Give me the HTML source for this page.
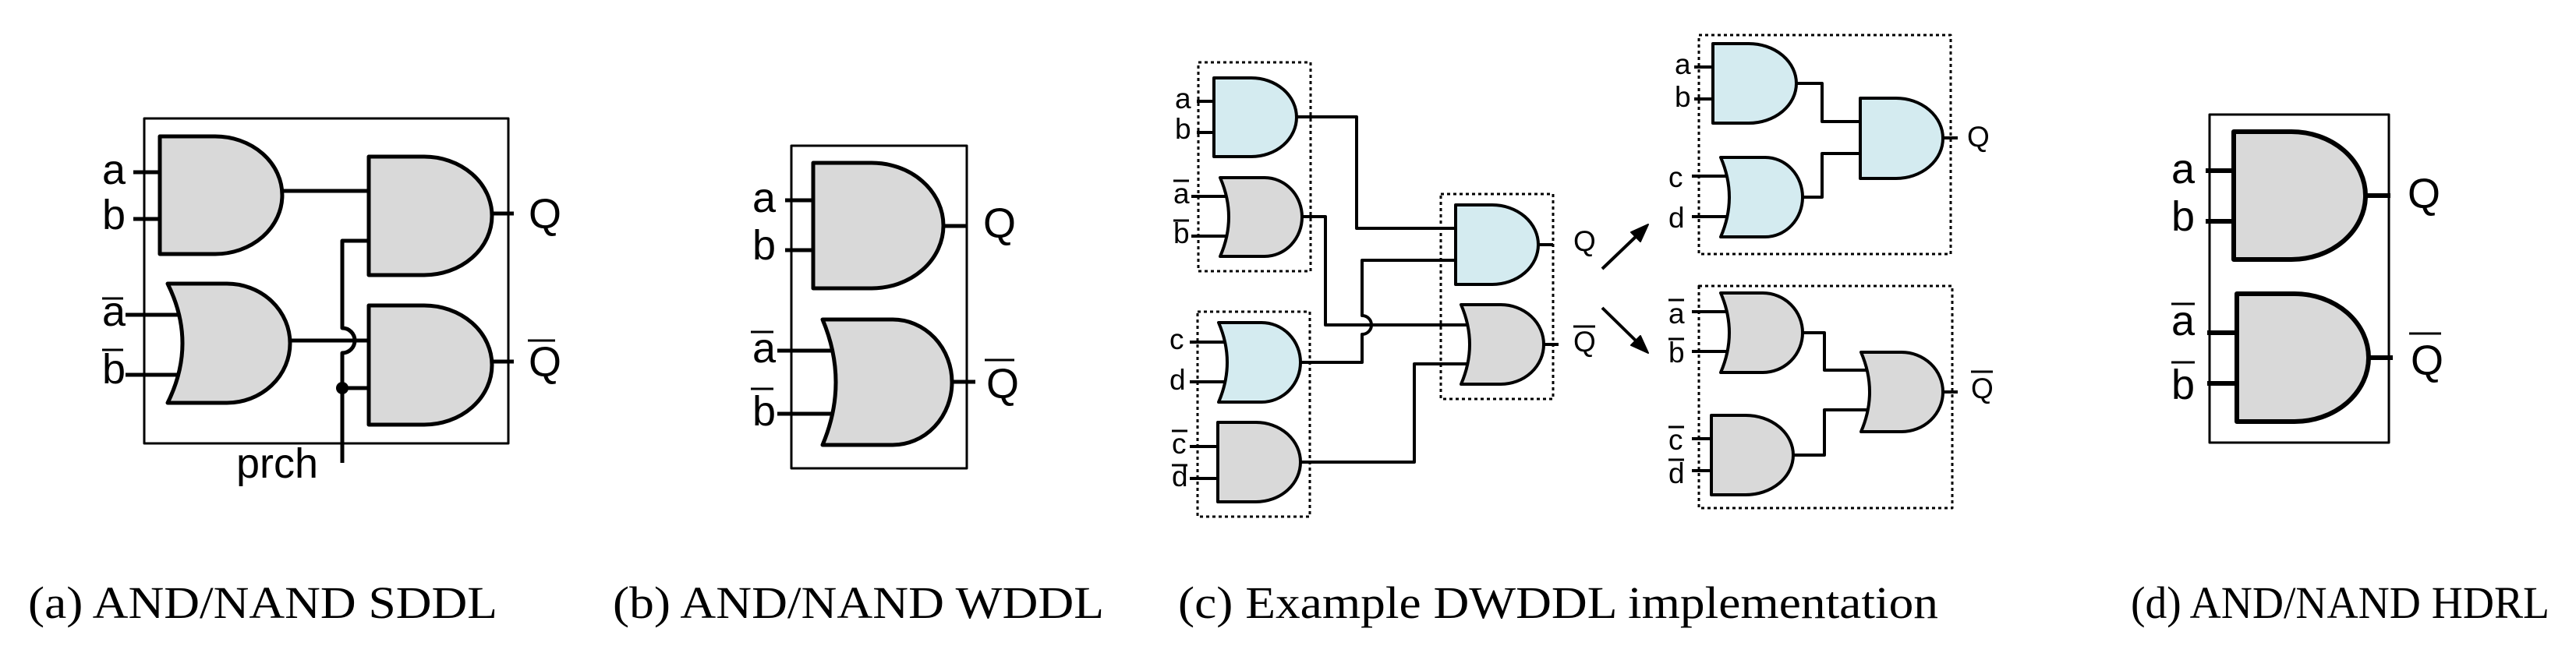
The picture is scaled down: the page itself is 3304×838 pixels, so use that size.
<!DOCTYPE html>
<html><head><meta charset="utf-8"><style>
html,body{margin:0;padding:0;background:#fff;}
svg{display:block;}
.l{font-family:"Liberation Sans",Arial,sans-serif;font-size:54px;fill:#000;}
.s{font-family:"Liberation Sans",Arial,sans-serif;font-size:37px;fill:#000;}
.cap{font-family:"Liberation Serif","Times New Roman",serif;font-size:58px;fill:#000;}
</style></head><body>
<svg width="3304" height="838" viewBox="0 0 3304 838" xmlns="http://www.w3.org/2000/svg">
<g fill="none" stroke="#000" stroke-linejoin="round">
<!-- Panel a -->
<rect x="185" y="152" width="467" height="417" stroke-width="3"/>
<g stroke-width="5">
<path d="M171,221H205M171,281H205M161,404H234M161,481H234"/>
<path d="M362,245H473M631,274H659M631,464H659M372,437H473"/>
<path d="M473,309H439V421A16,16 0 0 1 439,453V594M439,498H473"/>
<path d="M205,175H276A86,75.5 0 0 1 276,326H205Z" fill="#d9d9d9"/>
<path d="M473,201H544A87,76 0 0 1 544,353H473Z" fill="#d9d9d9"/>
<path d="M473,392H544A87,76.5 0 0 1 544,545H473Z" fill="#d9d9d9"/>
<path d="M215,364H291A81,76.5 0 0 1 291,517H215Q253,440.5 215,364Z" fill="#d9d9d9"/>
</g>
<circle cx="439" cy="498" r="8" fill="#000" stroke="none"/>
<!-- Panel b -->
<rect x="1015" y="187" width="225" height="414" stroke-width="3"/>
<g stroke-width="5">
<path d="M1007,257H1043M1007,321H1043M997,450H1075M997,531H1075M1210,290H1240M1221,490H1251"/>
<path d="M1043,209H1118A92,80.5 0 0 1 1118,370H1043Z" fill="#d9d9d9"/>
<path d="M1055,410H1145A76,80.5 0 0 1 1145,571H1055Q1089,490.5 1055,410Z" fill="#d9d9d9"/>
</g>
<!-- Panel c -->
<g stroke-width="3" stroke-dasharray="4 4">
<rect x="1537" y="80" width="144" height="268"/>
<rect x="1536" y="400" width="144" height="263"/>
<rect x="1848" y="249" width="144" height="263"/>
<rect x="2179" y="45" width="323" height="281"/>
<rect x="2179" y="367" width="325" height="285"/>
</g>
<g stroke-width="4">
<path d="M1535,130H1557M1535,170H1557M1528,252H1576M1528,303H1576M1526,439H1574M1526,490H1574M1526,573H1562M1526,614H1562"/>
<path d="M1663,150H1740V293H1867"/>
<path d="M1670,278H1700V417H1885"/>
<path d="M1668,465H1747V429A12,12 0 0 0 1747,405V334H1867"/>
<path d="M1668,593H1814V467H1883"/>
<path d="M1973,314H1992M1980,442H1999"/>
<path d="M1557,100H1605A58,50.5 0 0 1 1605,201H1557Z" fill="#d4ebf0"/>
<path d="M1565,228H1622A48,50.5 0 0 1 1622,329H1565Q1587,278.5 1565,228Z" fill="#d9d9d9"/>
<path d="M1563,414H1618A50,51 0 0 1 1618,516H1563Q1585,465 1563,414Z" fill="#d4ebf0"/>
<path d="M1562,542H1611A57,51 0 0 1 1611,644H1562Z" fill="#d9d9d9"/>
<path d="M1867,263H1914A59,51 0 0 1 1914,365H1867Z" fill="#d4ebf0"/>
<path d="M1874,391H1925A55,51 0 0 1 1925,493H1874Q1896,442 1874,391Z" fill="#d9d9d9"/>
<path d="M2055,345L2102,300M2055,395L2102,441"/>
<path d="M2173,86H2197M2173,127H2197M2170,226H2218M2170,278H2218"/>
<path d="M2304,107H2337V156H2386M2312,253H2337V197H2386M2492,177H2511"/>
<path d="M2197,56H2243A61,51 0 0 1 2243,158H2197Z" fill="#d4ebf0"/>
<path d="M2207,202H2264A48,51 0 0 1 2264,304H2207Q2229,253 2207,202Z" fill="#d4ebf0"/>
<path d="M2386,126H2432A60,51.5 0 0 1 2432,229H2386Z" fill="#d4ebf0"/>
<path d="M2170,400H2218M2170,451H2218M2170,563H2195M2170,604H2195"/>
<path d="M2312,427H2340V475H2398M2300,584H2340V526H2398M2492,503H2511"/>
<path d="M2207,376H2261A51,51 0 0 1 2261,478H2207Q2229,427 2207,376Z" fill="#d9d9d9"/>
<path d="M2195,533H2239A61,51 0 0 1 2239,635H2195Z" fill="#d9d9d9"/>
<path d="M2387,452H2439A53,51 0 0 1 2439,554H2387Q2409,503 2387,452Z" fill="#d9d9d9"/>
</g>
<path d="M2114,288L2092,298L2104,310Z M2114,453L2092,443L2104,431Z" fill="#000" stroke="#000" stroke-width="2"/>
<!-- Panel d -->
<rect x="2834" y="147" width="230" height="421" stroke-width="3"/>
<g stroke-width="6">
<path d="M2829,219H2865M2829,284H2865M2831,427H2869M2831,492H2869M3034,251H3066M3038,459H3069"/>
<path d="M2865,169H2939A95,82 0 0 1 2939,333H2865Z" fill="#d9d9d9"/>
<path d="M2869,377H2943A95,82 0 0 1 2943,541H2869Z" fill="#d9d9d9"/>
</g>
<!-- overbars -->
<g stroke-width="3">
<path d="M131,383H158M131,449H158M963,426H992M963,499H992M1263,462H1301"/>
<path d="M1505,232H1525M1505,283H1525M1503,553H1523M1503,597H1523M2018,419H2046"/>
<path d="M2140,385H2160M2140,435H2160M2140,548H2160M2140,590H2160M2528,477H2556"/>
<path d="M2785,390H2815M2785,465H2815M3090,428H3131M677,437H712"/>
</g>
</g>
<!-- labels a -->
<text class="l" x="131" y="236">a</text>
<text class="l" x="131" y="294">b</text>
<text class="l" x="131" y="418">a</text>
<text class="l" x="131" y="492">b</text>
<text class="l" x="678" y="293">Q</text>
<text class="l" x="678" y="483">Q</text>
<text class="l" x="303" y="613">prch</text>
<!-- labels b -->
<text class="l" x="965" y="272">a</text>
<text class="l" x="965" y="333">b</text>
<text class="l" x="965" y="465">a</text>
<text class="l" x="965" y="546">b</text>
<text class="l" x="1261" y="305">Q</text>
<text class="l" x="1265" y="511">Q</text>
<!-- labels c -->
<text class="s" x="1507" y="139">a</text>
<text class="s" x="1507" y="178">b</text>
<text class="s" x="1505" y="261">a</text>
<text class="s" x="1505" y="312">b</text>
<text class="s" x="1500" y="448">c</text>
<text class="s" x="1500" y="500">d</text>
<text class="s" x="1503" y="582">c</text>
<text class="s" x="1503" y="624">d</text>
<text class="s" x="2018" y="322">Q</text>
<text class="s" x="2018" y="451">Q</text>
<text class="s" x="2148" y="95">a</text>
<text class="s" x="2148" y="137">b</text>
<text class="s" x="2140" y="240">c</text>
<text class="s" x="2140" y="292">d</text>
<text class="s" x="2523" y="188">Q</text>
<text class="s" x="2140" y="415">a</text>
<text class="s" x="2140" y="465">b</text>
<text class="s" x="2140" y="577">c</text>
<text class="s" x="2140" y="620">d</text>
<text class="s" x="2528" y="511">Q</text>
<!-- labels d -->
<text class="l" x="2785" y="235">a</text>
<text class="l" x="2785" y="296">b</text>
<text class="l" x="2785" y="430">a</text>
<text class="l" x="2785" y="512">b</text>
<text class="l" x="3088" y="267">Q</text>
<text class="l" x="3092" y="481">Q</text>
<!-- captions -->
<text class="cap" x="36" y="793" textLength="602" lengthAdjust="spacingAndGlyphs">(a) AND/NAND SDDL</text>
<text class="cap" x="786" y="793" textLength="630" lengthAdjust="spacingAndGlyphs">(b) AND/NAND WDDL</text>
<text class="cap" x="1511" y="793" textLength="975" lengthAdjust="spacingAndGlyphs">(c) Example DWDDL implementation</text>
<text class="cap" x="2733" y="793" textLength="537" lengthAdjust="spacingAndGlyphs">(d) AND/NAND HDRL</text>
</svg>
</body></html>
